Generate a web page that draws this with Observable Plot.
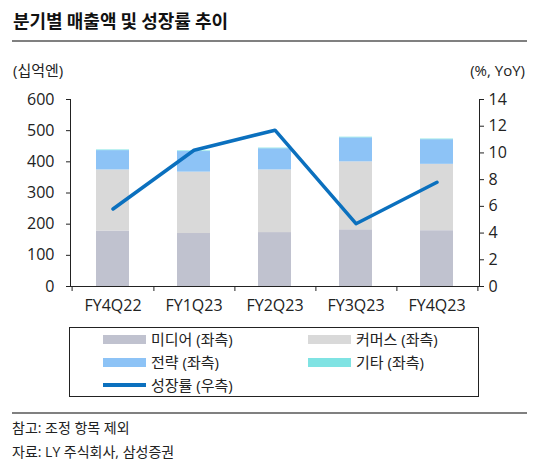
<!DOCTYPE html>
<html><head><meta charset="utf-8">
<script src="https://cdn.jsdelivr.net/npm/d3@7"></script>
<script src="https://cdn.jsdelivr.net/npm/@observablehq/plot@0.6"></script>
<style>
body{margin:0;background:#fff;font-family:"Open Sans","Noto Sans CJK KR",sans-serif;color:#222;}
#wrap{position:relative;width:554px;height:472px;overflow:hidden;}
.abs{position:absolute;white-space:nowrap;}
#title{left:13px;top:10px;font-size:18px;line-height:20px;font-weight:bold;color:#111;font-family:"Noto Sans CJK KR",sans-serif;}
.rule{position:absolute;left:12px;width:515px;background:#808080;height:2px;}
.unit{top:61px;font-size:15px;line-height:18px;}
#chart{position:absolute;left:0;top:0;}
#legend{position:absolute;left:69px;top:327px;width:408px;height:68px;border:1.5px solid #222;}
.item{position:absolute;font-size:15px;line-height:18px;display:flex;align-items:center;}
.sw{display:inline-block;width:43px;height:9px;margin-right:5px;}
.foot{left:12px;font-size:14px;line-height:18px;}
</style></head>
<body><div id="wrap">
<div id="title" class="abs">분기별 매출액 및 성장률 추이</div>
<div class="rule" style="top:40px"></div>
<div class="abs unit" style="left:13px">(십억엔)</div>
<div class="abs unit" style="right:29px">(%, YoY)</div>
<div id="chart"></div>
<div id="legend"></div>
<div class="rule" style="top:412px"></div>
<div class="abs foot" style="top:419px">참고: 조정 항목 제외</div>
<div class="abs foot" style="top:443px">자료: LY 주식회사, 삼성증권</div>
</div>
<script>
const categories = ["FY4Q22","FY1Q23","FY2Q23","FY3Q23","FY4Q23"];
const media = [178,170,173,182,179];
const commerce = [196,197,201,218,213];
const strategy = [62,66,68,77,79];
const other = [2,2,2,2,2];
const growth = [5.8,10.2,11.7,4.7,7.8];
const seriesNames = ["미디어 (좌측)","커머스 (좌측)","전략 (좌측)","기타 (좌측)"];
const lineName = "성장률 (우측)";
const leftTicks = [0,100,200,300,400,500,600];
const rightTicks = [0,2,4,6,8,10,12,14];
const colors = ["#c0c2cf","#d9d9d9","#8dc3f6","#7fe3e3"];
const lineColor = "#0b70be";

const leftMax = 600, rightMax = 14;
const toLeft = v => v * leftMax / rightMax;

const seriesValues = [media, commerce, strategy, other];
const rows = [];
categories.forEach((c, i) => seriesValues.forEach((vals, s) => rows.push({cat: c, series: seriesNames[s], value: vals[i]})));
const lineRows = categories.map((c, i) => ({cat: c, g: growth[i]}));

const W = 554, H = 320, ML = 70, MR = 75;
const step = (W - ML - MR) / categories.length;

const chart = Plot.plot({
  width: W, height: H,
  marginLeft: ML, marginRight: MR, marginTop: 99, marginBottom: 34,
  style: {fontFamily: '"Open Sans","Noto Sans CJK KR",sans-serif', fontSize: "16px", color: "#222", background: "transparent"},
  x: {type: "band", domain: categories, paddingInner: 0.59, paddingOuter: 0.295, label: null},
  y: {domain: [0, leftMax], label: null},
  color: {domain: seriesNames, range: colors},
  marks: [
    Plot.barY(rows, Plot.stackY({x: "cat", y: "value", fill: "series", order: null})),
    Plot.line(lineRows, {x: "cat", y: d => toLeft(d.g), stroke: lineColor, strokeWidth: 3.5}),
    Plot.frame({anchor: "left", stroke: "#222"}),
    Plot.frame({anchor: "right", stroke: "#222"}),
    Plot.ruleY([0], {stroke: "#222"}),
    Plot.axisY({anchor: "left", ticks: leftTicks, tickSize: 4, tickPadding: 12, label: null, stroke: "#222"}),
    Plot.axisY({anchor: "right", ticks: rightTicks.map(toLeft), tickFormat: d => Math.round(d * rightMax / leftMax), tickSize: 4, tickPadding: 5, label: null, stroke: "#222"}),
    Plot.axisX({ticks: categories, tickSize: 0, tickPadding: 13, label: null}),
    Plot.axisX({ticks: categories, tickSize: 5, dx: step / 2, tickFormat: () => "", label: null, stroke: "#222"}),
    Plot.axisX({ticks: [categories[0]], tickSize: 5, dx: -step / 2, tickFormat: () => "", label: null, stroke: "#222"})
  ]
});
document.getElementById("chart").appendChild(chart);

const legend = document.getElementById("legend");
const items = [
  {name: seriesNames[0], color: colors[0], col: 0, row: 0},
  {name: seriesNames[1], color: colors[1], col: 1, row: 0},
  {name: seriesNames[2], color: colors[2], col: 0, row: 1},
  {name: seriesNames[3], color: colors[3], col: 1, row: 1},
  {name: lineName, color: lineColor, col: 0, row: 2, line: true}
];
items.forEach(it => {
  const d = document.createElement("div");
  d.className = "item";
  d.style.left = (it.col === 0 ? 33 : 238) + "px";
  d.style.top = (2 + it.row * 23) + "px";
  const sw = document.createElement("span");
  sw.className = "sw";
  sw.style.background = it.color;
  if (it.line) { sw.style.height = "4px"; }
  d.appendChild(sw);
  const t = document.createElement("span");
  t.textContent = it.name;
  d.appendChild(t);
  legend.appendChild(d);
});
</script>
</body></html>
